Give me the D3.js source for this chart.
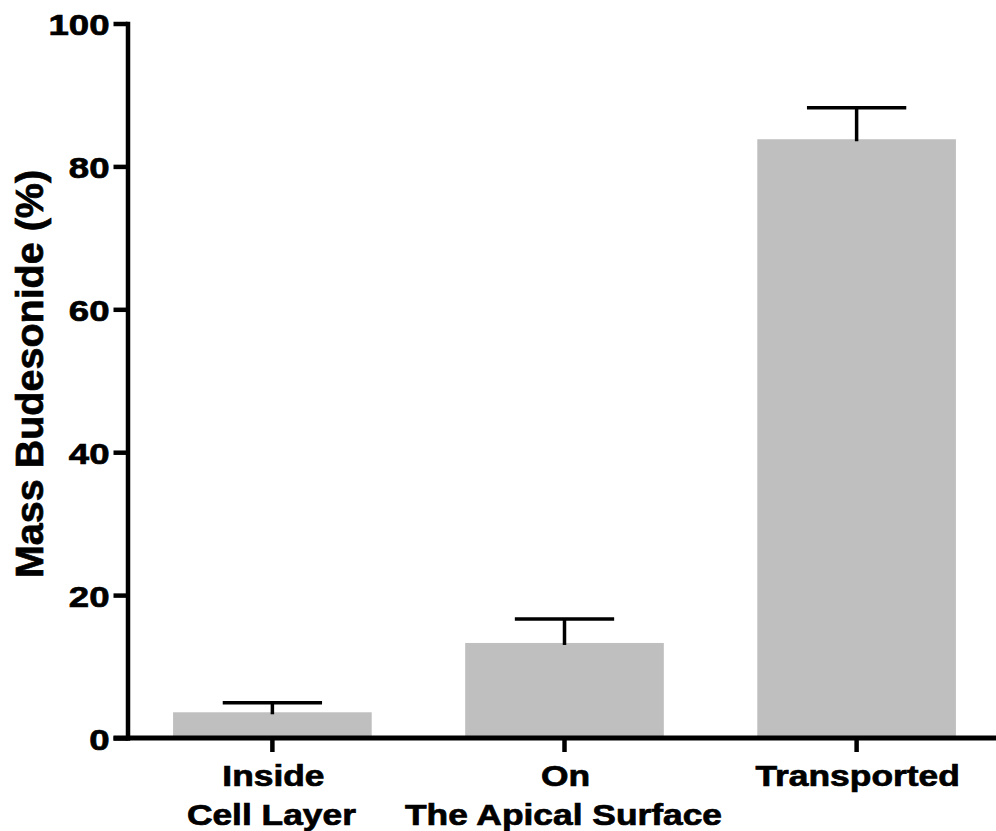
<!DOCTYPE html>
<html>
<head>
<meta charset="utf-8">
<script src="https://cdn.jsdelivr.net/npm/d3@7"></script>
<style>
  html, body { margin: 0; padding: 0; background: #fff; }
  svg { display: block; }
  text { font-family: "Liberation Sans", Arial, Helvetica, sans-serif; font-weight: bold; fill: #000; stroke: #000; stroke-width: 0.7px; }
</style>
</head>
<body>
<svg id="chart" width="996" height="831"></svg>
<script>
// ---- data ----
const categories = ["Inside|Cell Layer", "On|The Apical Surface", "Transported"];
const means = [3.6, 13.3, 83.8];
const errors = [1.35, 3.35, 4.4];
const yTicks = [0, 20, 40, 60, 80, 100];
const yTitle = "Mass Budesonide (%)";

// ---- layout ----
const svg = d3.select("#chart");
const W = 996, H = 831;
const axisX = 127.5, axisY0 = 738, axisYTop = 23.5;
const stretch = 1.22;

const x = d3.scaleBand()
  .domain(categories)
  .range([127.5, 1001.5])
  .paddingInner(0.32)
  .paddingOuter(0.156);

const y = d3.scaleLinear().domain([0, 100]).range([axisY0, axisYTop]);

// bars
svg.append("g").selectAll("rect")
  .data(categories)
  .join("rect")
  .attr("x", d => x(d))
  .attr("width", x.bandwidth())
  .attr("y", (d, i) => y(means[i]))
  .attr("height", (d, i) => y(0) - y(means[i]))
  .attr("fill", "#bfbfbf");

// error bars
const eb = svg.append("g").attr("stroke", "#000").attr("stroke-width", 3.5);
categories.forEach((c, i) => {
  const cx = x(c) + x.bandwidth() / 2;
  const half = x.bandwidth() / 4;
  eb.append("line")
    .attr("x1", cx).attr("x2", cx)
    .attr("y1", y(means[i]) + 2).attr("y2", y(means[i] + errors[i]));
  eb.append("line")
    .attr("x1", cx - half).attr("x2", cx + half)
    .attr("y1", y(means[i] + errors[i])).attr("y2", y(means[i] + errors[i]));
});

// y axis
const yAxis = svg.append("g")
  .attr("transform", `translate(${axisX},0)`)
  .call(d3.axisLeft(y).tickValues(yTicks).tickSize(14).tickSizeOuter(0).tickFormat(d3.format("d")));
yAxis.select(".domain").attr("stroke", "#000").attr("stroke-width", 4.5).attr("stroke-linecap", "square");
yAxis.selectAll(".tick line").attr("stroke", "#000").attr("stroke-width", 4.5);
yAxis.selectAll(".tick text")
  .attr("x", 0).attr("dy", null)
  .attr("transform", `translate(-18,11) scale(${stretch},1)`)
  .attr("text-anchor", "end")
  .style("font-size", "30px");

// x axis
const xAxis = svg.append("g")
  .attr("transform", `translate(0,${axisY0})`)
  .call(d3.axisBottom(x).tickSize(14).tickSizeOuter(0).tickFormat(""));
xAxis.select(".domain").attr("d", `M${axisX - 14},0H${W}`).attr("stroke", "#000").attr("stroke-width", 5);
xAxis.selectAll(".tick line").attr("stroke", "#000").attr("stroke-width", 4.5);
xAxis.selectAll(".tick text").remove();
xAxis.selectAll(".tick").each(function(d) {
  const lines = d.split("|");
  const g = d3.select(this);
  lines.forEach((ln, j) => {
    g.append("text")
      .attr("text-anchor", "middle")
      .attr("transform", `translate(${j === 0 ? 1 : -1},${48 + j * 39}) scale(${stretch},1)`)
      .style("font-size", "29px")
      .text(ln);
  });
});

// y title
svg.append("text")
  .attr("transform", `translate(43,374) rotate(-90)`)
  .attr("text-anchor", "middle")
  .style("font-size", "39.5px")
  .text(yTitle);
</script>
</body>
</html>
